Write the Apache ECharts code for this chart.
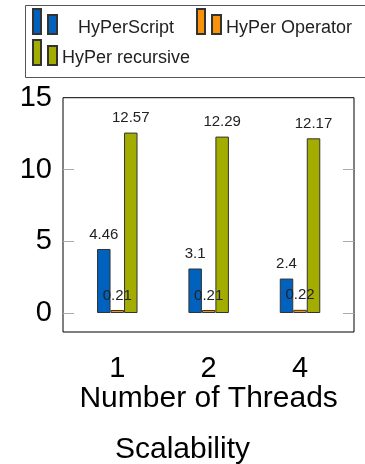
<!DOCTYPE html>
<html>
<head>
<meta charset="utf-8">
<script src="https://cdn.jsdelivr.net/npm/echarts@6/dist/echarts.min.js"></script>
<style>html,body{margin:0;padding:0;background:#fff}#c{width:365px;height:464px}</style>
</head>
<body>
<div id="c"></div>
<script>
const categories = ['1', '2', '4'];
const seriesNames = ['HyPerScript', 'HyPer Operator', 'HyPer recursive'];
const hyperScript = [4.46, 3.1, 2.4];
const hyperOperator = [0.21, 0.21, 0.22];
const hyperRecursive = [12.57, 12.29, 12.17];
const yTicks = [0, 5, 10, 15];
const yInnerTicks = [0, 5, 10];
const colors = ['#0062bd', '#f7920a', '#a3ad00'];

const FONT = '"Liberation Sans", Arial, Helvetica, sans-serif';
const chart = echarts.init(document.getElementById('c'), null, {renderer: 'canvas'});
const icon = 'path://M0,0h8v25h-8z M15,6h9v19h-9z';

function barSeries(name, data, color) {
  return {
    name: name, type: 'bar', xAxisIndex: 1, yAxisIndex: 2,
    data: data, barWidth: 13.5, barGap: '0%',
    itemStyle: {color: color, borderColor: '#333', borderWidth: 1},
    label: {show: true, position: 'top', distance: 7, fontSize: 15, color: '#222', fontFamily: FONT},
    animation: false
  };
}

function legendCfg(name, left, top, padLeft, padTop) {
  return {
    data: [name], left: left, top: top, padding: 0, orient: 'horizontal',
    icon: icon, itemWidth: 24, itemHeight: 25,
    selectedMode: false,
    formatter: '{a|{name}}',
    textStyle: {
      fontSize: 18, color: '#222', fontFamily: FONT,
      rich: {a: {fontSize: 18, color: '#222', fontFamily: FONT, padding: [padTop, 0, 0, padLeft]}}
    }
  };
}

chart.setOption({
  animation: false,
  textStyle: {fontFamily: FONT},
  title: {
    text: 'Scalability', left: 'center', top: 430,
    textStyle: {fontSize: 30, fontWeight: 'normal', color: '#000', fontFamily: FONT}
  },
  graphic: [{
    type: 'rect', left: 23, top: 3, shape: {width: 342, height: 72},
    style: {fill: 'none', stroke: '#555', lineWidth: 1}, silent: true
  }],
  legend: [
    legendCfg(seriesNames[0], 32, 8, 16, 14),
    legendCfg(seriesNames[1], 196, 8, 0, 14),
    legendCfg(seriesNames[2], 32, 39, 0, 11)
  ],
  grid: [
    {left: 63, right: 11, top: 97.7, bottom: 132, show: true, borderColor: '#000', borderWidth: 1, backgroundColor: 'transparent', containLabel: false},
    {left: 71.6, right: 19.3, top: 97.7, bottom: 151, containLabel: false}
  ],
  xAxis: [
    {gridIndex: 0, type: 'value', show: false, min: 0, max: 1},
    {
      gridIndex: 1, type: 'category', data: categories, position: 'bottom', offset: 19,
      axisLine: {show: false},
      axisTick: {alignWithLabel: true, length: 11, lineStyle: {color: '#aaa', width: 1}},
      axisLabel: {fontSize: 29, color: '#000', margin: 22, fontFamily: FONT},
      name: 'Number of Threads', nameLocation: 'middle', nameGap: 50,
      nameTextStyle: {fontSize: 30, color: '#000', fontFamily: FONT}
    },
    {
      gridIndex: 1, type: 'category', data: categories, position: 'top',
      axisLine: {show: false},
      axisTick: {alignWithLabel: true, length: 12, lineStyle: {color: '#aaa', width: 1}},
      axisLabel: {show: false}
    }
  ],
  yAxis: [
    {
      gridIndex: 0, type: 'value', min: -1.3, max: 15, position: 'left',
      axisLine: {show: false}, splitLine: {show: false},
      axisTick: {show: true, inside: true, length: 11, customValues: yInnerTicks, lineStyle: {color: '#aaa', width: 1}},
      axisLabel: {customValues: yTicks, fontSize: 29, color: '#000', margin: 11, fontFamily: FONT}
    },
    {
      gridIndex: 0, type: 'value', min: -1.3, max: 15, position: 'right',
      axisLine: {show: false}, splitLine: {show: false},
      axisTick: {show: true, inside: true, length: 11, customValues: yInnerTicks, lineStyle: {color: '#aaa', width: 1}},
      axisLabel: {show: false}
    },
    {gridIndex: 1, type: 'value', min: 0, max: 15, show: false, splitLine: {show: false}}
  ],
  series: [
    barSeries(seriesNames[0], hyperScript, colors[0]),
    barSeries(seriesNames[1], hyperOperator, colors[1]),
    barSeries(seriesNames[2], hyperRecursive, colors[2])
  ]
});
</script>
</body>
</html>
